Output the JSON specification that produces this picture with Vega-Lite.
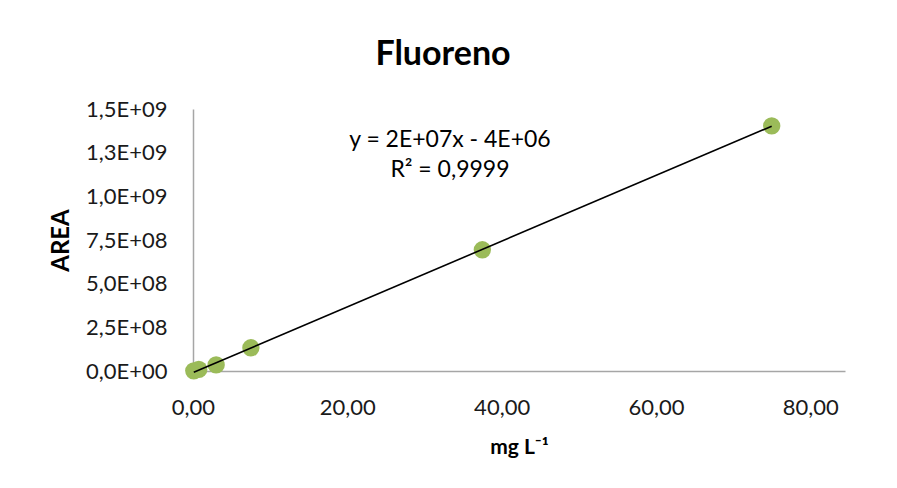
{
  "$schema": "https://vega.github.io/schema/vega-lite/v6.json",
  "width": 652,
  "height": 262,
  "autosize": {"type": "none"},
  "padding": {"left": 193, "top": 109, "right": 52, "bottom": 117},
  "background": "white",
  "config": {"view": {"stroke": null}, "font": "Lato"},
  "title": {"text": "Fluoreno", "fontSize": 34, "fontWeight": "bold", "font": "Lato", "color": "#000000", "anchor": "middle", "frame": "group", "dx": -76, "offset": 26},
  "layer": [
    {"data": {"values": [
      {"conc": 0.1, "area": 1000000},
      {"conc": 0.75, "area": 9000000},
      {"conc": 3.0, "area": 35000000},
      {"conc": 7.5, "area": 133000000},
      {"conc": 37.5, "area": 694000000},
      {"conc": 75.0, "area": 1403000000}
    ]},
    "layer": [
      {"mark": {"type": "circle", "size": 300, "color": "#9BBB59", "opacity": 1},
       "encoding": {
        "x": {"field": "conc", "type": "quantitative",
          "scale": {"domain": [0, 84.5], "nice": false, "zero": false},
          "axis": {"values": [0, 20, 40, 60, 80], "grid": false, "ticks": false, "domain": true, "domainColor": "#a6a6a6", "domainWidth": 1.5, "labelFlush": false,
            "labelExpr": "replace(format(datum.value, '.2f'), '.', ',')", "labelFont": "Lato", "labelFontSize": 22, "labelColor": "#1a1a1a", "labelPadding": 26,
            "title": "mg L⁻¹", "titleFont": "Lato", "titleFontSize": 21, "titleFontWeight": "bold", "titleColor": "#000000", "titlePadding": 18}},
        "y": {"field": "area", "type": "quantitative",
          "scale": {"domain": [0, 1500000000], "nice": false},
          "axis": {"values": [0, 250000000, 500000000, 750000000, 1000000000, 1250000000, 1500000000], "grid": false, "ticks": false, "domain": true, "domainColor": "#a6a6a6", "domainWidth": 1.5, "labelFlush": false,
            "labelExpr": "datum.value == 0 ? '0,0E+00' : replace(format(datum.value >= 1e9 ? datum.value / 1e9 : datum.value / 1e8, '.1f'), '.', ',') + (datum.value >= 1e9 ? 'E+09' : 'E+08')",
            "labelFont": "Lato", "labelFontSize": 22, "labelColor": "#1a1a1a", "labelPadding": 26,
            "title": "AREA", "titleFont": "Lato", "titleFontSize": 24, "titleFontWeight": "bold", "titleColor": "#000000", "titlePadding": 12}}
       }},
      {"transform": [{"regression": "area", "on": "conc"}],
       "mark": {"type": "line", "color": "#000000", "strokeWidth": 1.6},
       "encoding": {"x": {"field": "conc", "type": "quantitative"}, "y": {"field": "area", "type": "quantitative"}}}
    ]},
    {"data": {"values": [{"label": "y = 2E+07x - 4E+06\nR² = 0,9999"}]},
     "mark": {"type": "text", "font": "Lato", "fontSize": 23, "fontWeight": "normal", "fill": "#000000", "align": "center", "baseline": "middle", "lineHeight": 30, "lineBreak": "\n"},
     "encoding": {"x": {"datum": 33.3, "type": "quantitative"}, "y": {"datum": 1322000000, "type": "quantitative"}, "text": {"field": "label", "type": "nominal"}}}
  ]
}
